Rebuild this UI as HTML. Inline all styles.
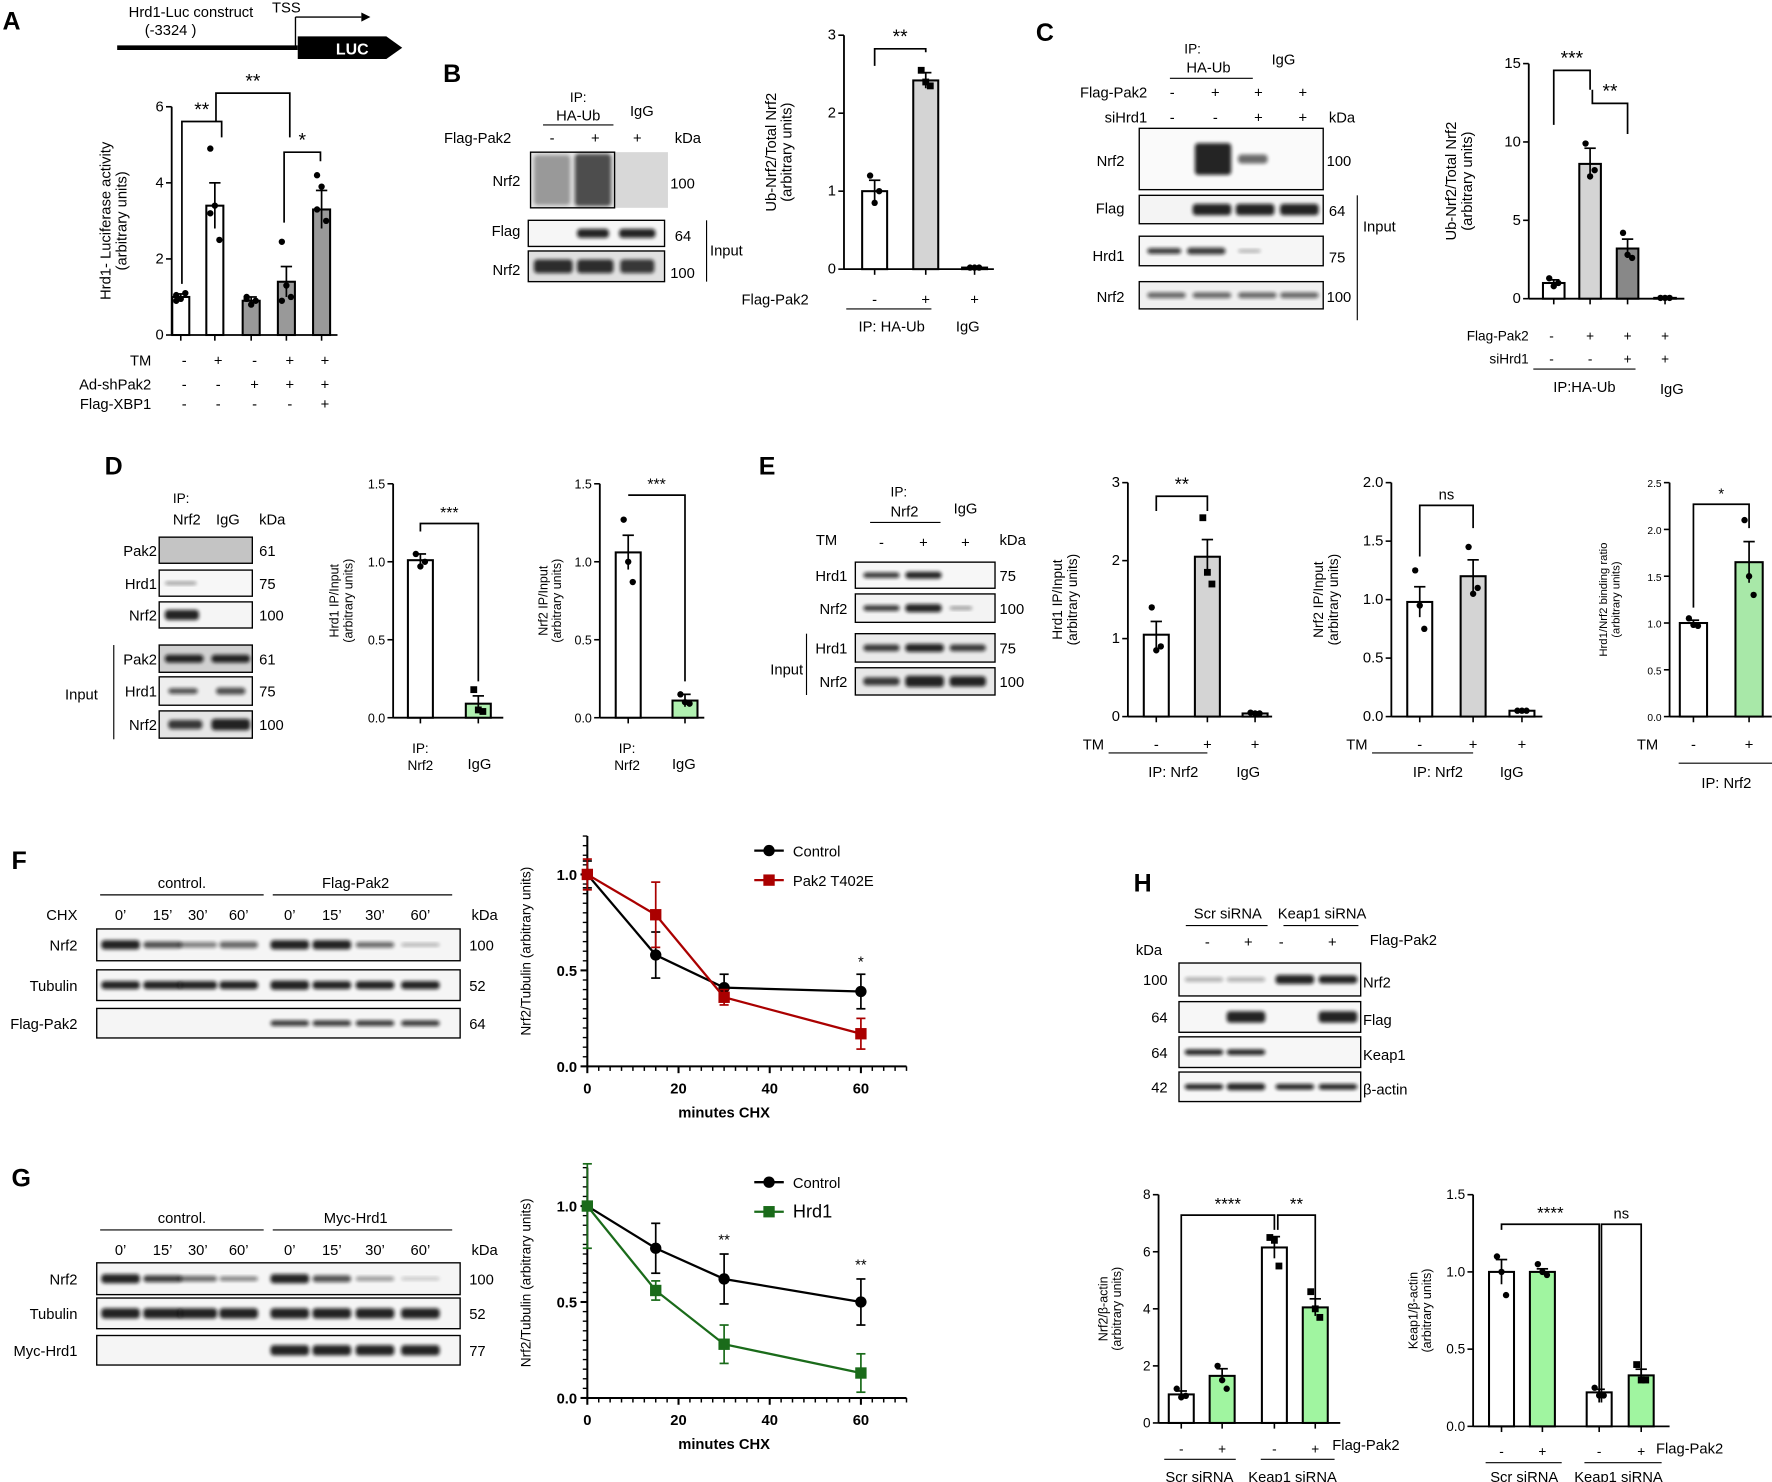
<!DOCTYPE html>
<html><head><meta charset="utf-8"><style>
html,body{margin:0;padding:0;background:#fff}
svg{display:block;font-family:"Liberation Sans",Arial,sans-serif}
</style></head><body>
<svg id="fig" xmlns="http://www.w3.org/2000/svg" width="1772" height="1482" viewBox="0 0 1560 1305">
<defs><filter id="blur" x="-20%" y="-50%" width="140%" height="200%"><feGaussianBlur stdDeviation="1.6"/></filter></defs>
<g id="root"></g>
</svg>
<script>
// ---------- data ----------
const aValues=[1.0,3.4,0.9,1.4,3.3];
const aErrs=[0.08,0.6,0.1,0.4,0.5];
const aPoints=[[1.05,0.95,1.1,0.9],[4.9,3.4,2.5,3.2],[0.95,0.8,0.9,1.0],[2.45,1.3,1.0,0.9],[4.2,3.9,3.0,3.3]];
const bValues=[1.0,2.42,0.02];
const bErrs=[0.14,0.1,0.01];
const bPoints=[[1.2,0.85,1.0],[2.55,2.4,2.35],[0.02,0.02,0.02]];
const cValues=[1.0,8.6,3.2,0.05];
const cErrs=[0.2,1.0,0.6,0.03];
const cPoints=[[1.3,0.8,1.0],[9.9,7.8,8.2],[4.2,2.8,2.6],[0.05,0.05,0.05]];
const d1Values=[1.01,0.09];const d1Errs=[0.04,0.05];const d1Points=[[1.05,0.97,1.0],[0.18,0.05,0.04]];
const d2Values=[1.06,0.11];const d2Errs=[0.11,0.04];const d2Points=[[1.27,1.0,0.87],[0.15,0.1,0.09]];
const e1Values=[1.05,2.05,0.04];const e1Errs=[0.17,0.22,0.02];const e1Points=[[1.4,0.85,0.9],[2.55,1.85,1.7],[0.05,0.04,0.04]];
const e2Values=[0.98,1.2,0.05];const e2Errs=[0.13,0.14,0.01];const e2Points=[[1.25,0.95,0.75],[1.45,1.05,1.1],[0.05,0.05,0.05]];
const e3Values=[1.0,1.65];const e3Errs=[0.03,0.22];const e3Points=[[1.05,0.98,0.97],[2.1,1.5,1.3]];
const h1Values=[1.0,1.65,6.15,4.05];const h1Errs=[0.12,0.25,0.38,0.3];const h1Points=[[1.2,0.9,0.95],[2.0,1.5,1.2],[6.5,6.4,5.5],[4.6,4.0,3.7]];
const h2Values=[1.0,1.0,0.22,0.33];const h2Errs=[0.08,0.02,0.02,0.04];const h2Points=[[1.1,1.0,0.85],[1.05,1.0,0.98],[0.25,0.2,0.2],[0.4,0.3,0.3]];
const timePoints=[0,15,30,60];
const fControl=[1.0,0.58,0.41,0.39];const fControlErr=[0.07,0.12,0.07,0.09];
const fPak2=[1.0,0.79,0.36,0.17];const fPak2Err=[0.08,0.17,0.04,0.08];
const gControl=[1.0,0.78,0.62,0.50];const gControlErr=[0.02,0.13,0.13,0.12];
const gHrd1=[1.0,0.56,0.28,0.13];const gHrd1Err=[0.22,0.05,0.1,0.1];
const xTicks=[0,20,40,60];const yTicksLine=[0,0.5,1.0];

// ---------- helpers ----------
const NS="http://www.w3.org/2000/svg";
const root=document.getElementById('root');
function el(tag,attrs,parent,txt){const e=document.createElementNS(NS,tag);for(const k in attrs)e.setAttribute(k,attrs[k]);if(txt!==undefined)e.textContent=txt;(parent||root).appendChild(e);return e;}
function line(x1,y1,x2,y2,p,w,c){return el('line',{x1,y1,x2,y2,stroke:c||'#000','stroke-width':w||1.5},p);}
function text(x,y,s,p,size,anchor,extra){const t=el('text',Object.assign({x,y,'font-size':size||12,'text-anchor':anchor||'start',fill:'#000'},extra||{}),p,s);return t;}
function group(name){const g=el('g',{});return g;}

function barChart(o){
  const g=group(o.name);
  const ys=v=>o.y0-(v/o.max)*(o.y0-o.yTop);
  line(o.ax,o.yTop,o.ax,o.y0,g,1.6);
  line(o.ax,o.y0,o.xEnd,o.y0,g,1.6);
  o.ticks.forEach((t,i)=>{const y=ys(t);line(o.ax-5,y,o.ax,y,g,1.4);const lb=text(o.ax-7,y+4,o.tickLabels[i],g,o.tfs||12,'end');});
  o.values.forEach((v,i)=>{
    const cx=o.centers[i],w=o.bw;
    const b=el('rect',{x:cx-w/2,y:ys(v),width:w,height:o.y0-ys(v),fill:o.colors[i],stroke:'#000','stroke-width':1.8},g);
    
    
    line(cx,o.y0,cx,o.y0+5,g,1.4);
    const e=o.errs[i];
    line(cx,ys(v),cx,ys(v+e),g,1.5);line(cx-5,ys(v+e),cx+5,ys(v+e),g,1.5);
    line(cx,ys(v),cx,ys(Math.max(0,v-e)),g,1.5);
    o.points[i].forEach((p,j)=>{
      const dx=(j%3-1)*4;
      if(o.square&&o.square[i]) el('rect',{x:cx+dx-3,y:ys(p)-3,width:6,height:6,fill:'#000'},g);
      else el('circle',{cx:cx+dx,cy:ys(p),r:o.pr||2.8,fill:'#000'},g);
    });
  });
  const yl=text(0,0,'',g,o.lfs||12,'middle',{transform:`translate(${o.labX},${(o.y0+o.yTop)/2}) rotate(-90)`});
  
  el('tspan',{x:0,dy:0},yl,o.label1);
  if(o.label2)el('tspan',{x:0,dy:(o.lfs||12)+1},yl,o.label2);
  return {g,ys};
}
function blot(name,x,y,w,h,bands,bg){
  const g=group(name);
  el('rect',{x,y,width:w,height:h,fill:bg||'#f4f4f4',stroke:'#000','stroke-width':1.2},g);
  bands.forEach(b=>{el('rect',{x:b[0],y:y+h/2-b[2]/2,width:b[1],height:b[2],fill:'#111',opacity:b[3]||0.9,rx:3,filter:'url(#blur)'},g);});
  return g;
}
function lineChart(o){
  const g=group(o.name);
  const xs=v=>o.ax+v*o.kx, ys=v=>o.y0-v*(o.y0-o.y1);
  const top=ys(1.2);
  line(o.ax,top,o.ax,o.y0,g,1.8);line(o.ax,o.y0,xs(70),o.y0,g,1.8);
  for(let v=0;v<=70;v+=2.5){const big=v%20===0;line(xs(v),o.y0,xs(v),o.y0+(big?6:4),g,big?1.8:1.3);}
  for(let v=0;v<=1.2001;v+=0.05){const big=Math.abs(v*2-Math.round(v*2))<1e-6;line(o.ax-(big?6:4),ys(v),o.ax,ys(v),g,big?1.8:1.2);}
  xTicks.forEach(t=>{const lb=text(xs(t),o.y0+24,String(t),g,13,'middle',{'font-weight':'bold'});});
  yTicksLine.forEach(t=>{const lb=text(o.ax-9,ys(t)+5,t.toFixed(1),g,13,'end',{'font-weight':'bold'});});
  const xt=text(xs(30),o.y0+45,'minutes CHX',g,13,'middle',{'font-weight':'bold'});
  const yt=text(0,0,'Nrf2/Tubulin (arbitrary units)',g,12,'middle',{transform:`translate(${o.ax-50},${ys(0.6)}) rotate(-90)`});
  o.series.forEach((s,si)=>{
    const sg=el('g',{},g);
    el('polyline',{points:timePoints.map((t,i)=>xs(t)+','+ys(s.vals[i])).join(' '),fill:'none',stroke:s.color,'stroke-width':2},sg);
    timePoints.forEach((t,i)=>{const x=xs(t),v=s.vals[i],e=s.errs[i];
      line(x,ys(v-e),x,ys(v+e),sg,1.5,s.color);line(x-4,ys(v+e),x+4,ys(v+e),sg,1.5,s.color);line(x-4,ys(v-e),x+4,ys(v-e),sg,1.5,s.color);
      if(s.sq){const m=el('rect',{x:x-5,y:ys(v)-5,width:10,height:10,fill:s.color},sg);}
      else {const m=el('circle',{cx:x,cy:ys(v),r:5,fill:s.color},sg);}
    });
    const ly=o.legY+si*26, lx=o.legX;
    const lg=el('g',{},g);
    line(lx,ly,lx+26,ly,lg,2,s.color);
    if(s.sq)el('rect',{x:lx+8,y:ly-5,width:10,height:10,fill:s.color},lg);else el('circle',{cx:lx+13,cy:ly,r:5,fill:s.color},lg);
    text(lx+34,ly+5,s.name,lg,s.lfs||13);
  });
  (o.stars||[]).forEach(st=>text(xs(st[0]),ys(st[1]),st[2],g,13,'middle'));
}
function letter(s,x,y){const t=text(x,y,s,null,22,'start',{'font-weight':'bold'});}
function bracket(g,x1,x2,yb1,yb2,yt,star,fs){el('polyline',{points:`${x1},${yb1} ${x1},${yt} ${x2},${yt} ${x2},${yb2}`,fill:'none',stroke:'#000','stroke-width':1.5},g);text((x1+x2)/2,yt-5,star,g,fs||15,'middle');}

// ---------- Panel A ----------
letter('A',2,26);
{const g=group('construct-diagram');
 text(168,15,'Hrd1-Luc construct',g,13,'middle');text(150,31,'(-3324 )',g,13,'middle');
 line(103,42,262,42,g,4);
 el('polygon',{points:'262,32 340,32 354,42 340,52 262,52',fill:'#000'},g);
 text(310,48,'LUC',g,14,'middle',{fill:'#fff','font-weight':'bold'});
 line(260,42,260,15,g,1.2);line(260,15,318,15,g,1.2);el('polygon',{points:'318,11 326,15 318,19',fill:'#000'},g);
 text(252,11,'TSS',g,13,'middle');}
{const c=barChart({name:'chart-a',ax:151,y0:295,yTop:94,max:6,ticks:[0,2,4,6],tickLabels:['0','2','4','6'],centers:[159,189,221,252,283],bw:15,values:aValues,errs:aErrs,points:aPoints,colors:['#fff','#fff','#999','#999','#999'],xEnd:297,labX:97,label1:'Hrd1- Luciferase activity',label2:'(arbitrary units)',tfs:13,lfs:13});
 bracket(c.g,160,195,250,121,107,'**',17);
 bracket(c.g,190,255,107,121,82,'**',17);
 bracket(c.g,250,282,196,142,134,'*',17);
 const rows=[['TM',['-','+','-','+','+'],318],['Ad-shPak2',['-','-','+','+','+'],339],['Flag-XBP1',['-','-','-','-','+'],356]];
 rows.forEach(r=>{text(133,r[2]+4,r[0],c.g,13,'end');r[1].forEach((s,i)=>text([159,189,221,252,283][i]+3,r[2]+4,s,c.g,13,'middle'));});}

// ---------- Panel B ----------
letter('B',390,72);
{const g=group('blot-b');
 text(509,90,'IP:',g,12,'middle');text(509,106,'HA-Ub',g,13,'middle');line(478,110,540,110,g,1);
 text(565,102,'IgG',g,13,'middle');
 text(450,126,'Flag-Pak2',g,13,'end');text(486,126,'-',g,13,'middle');text(524,126,'+',g,13,'middle');text(561,126,'+',g,13,'middle');text(594,126,'kDa',g,13);
 text(458,164,'Nrf2',g,13,'end');text(458,208,'Flag',g,13,'end');text(458,242,'Nrf2',g,13,'end');
 text(590,166,'100',g,13);text(594,212,'64',g,13);text(590,245,'100',g,13);text(625,225,'Input',g,13);line(622,194,622,248,g,1);
 el('rect',{x:467,y:134,width:121,height:49,fill:'#d8d8d8'},g);
 blot('blot-b-nrf2-ip',467,134,74,49,[[470,32,44,0.35],[506,32,46,0.7]],'#e6e6e6');
 blot('blot-b-flag',465,194,120,23,[[508,28,8],[545,32,8]],'#f6f6f6');
 blot('blot-b-nrf2-input',465,221,120,27,[[470,34,12,0.85],[508,32,12,0.85],[546,30,12,0.8]],'#e0e0e0');}
{const c=barChart({name:'chart-b',ax:743,y0:237,yTop:31,max:3,ticks:[0,1,2,3],tickLabels:['0','1','2','3'],centers:[770,815,858],bw:22,values:bValues,errs:bErrs,points:bPoints,colors:['#fff','#d4d4d4','#fff'],square:[false,true,false],xEnd:875,labX:683,label1:'Ub-Nrf2/Total Nrf2',label2:'(arbitrary units)',tfs:13,lfs:13});
 bracket(c.g,770,815,58,46,43,'**',17);
 text(712,268,'Flag-Pak2',c.g,13,'end');text(770,268,'-',c.g,13,'middle');text(815,268,'+',c.g,13,'middle');text(858,268,'+',c.g,13,'middle');
 line(745,272,820,272,c.g,1);text(785,292,'IP: HA-Ub',c.g,13,'middle');text(852,292,'IgG',c.g,13,'middle');}

// ---------- Panel C ----------
letter('C',912,36);
{const g=group('blot-c');
 text(1050,47,'IP:',g,12,'middle');text(1064,64,'HA-Ub',g,13,'middle');line(1030,69,1103,69,g,1);text(1130,57,'IgG',g,13,'middle');
 text(1010,86,'Flag-Pak2',g,13,'end');text(1010,108,'siHrd1',g,13,'end');
 ['-','+','+','+'].forEach((s,i)=>text([1032,1070,1108,1147][i],86,s,g,13,'middle'));
 ['-','-','+','+'].forEach((s,i)=>text([1032,1070,1108,1147][i],108,s,g,13,'middle'));text(1170,108,'kDa',g,13);
 text(990,146,'Nrf2',g,13,'end');text(990,188,'Flag',g,13,'end');text(990,230,'Hrd1',g,13,'end');text(990,266,'Nrf2',g,13,'end');
 text(1168,146,'100',g,13);text(1170,190,'64',g,13);text(1170,231,'75',g,13);text(1168,266,'100',g,13);text(1200,204,'Input',g,13);line(1195,172,1195,282,g,1);
 blot('blot-c-nrf2-ip',1003,113,162,54,[[1052,32,28,0.9],[1090,26,8,0.6]],'#fafafa');
 blot('blot-c-flag',1003,172,162,25,[[1050,34,10],[1088,34,10],[1127,34,10]],'#f4f4f4');
 blot('blot-c-hrd1',1003,208,162,26,[[1010,30,5,0.8],[1045,34,6,0.8],[1090,20,3,0.3]],'#f6f6f6');
 blot('blot-c-nrf2-input',1003,248,162,24,[[1010,34,5,0.6],[1050,34,5,0.6],[1090,34,5,0.6],[1127,34,5,0.6]],'#f0f0f0');}
{const c=barChart({name:'chart-c',ax:1346,y0:263,yTop:56,max:15,ticks:[0,5,10,15],tickLabels:['0','5','10','15'],centers:[1368,1400,1433,1466],bw:19,values:cValues,errs:cErrs,points:cPoints,colors:['#fff','#d4d4d4','#888','#fff'],xEnd:1483,labX:1282,label1:'Ub-Nrf2/Total Nrf2',label2:'(arbitrary units)',tfs:13,lfs:13});
 bracket(c.g,1368,1400,110,79,62,'***',17);
 bracket(c.g,1402,1433,79,118,91,'**',17);
 text(1346,300,'Flag-Pak2',c.g,12,'end');text(1346,320,'siHrd1',c.g,12,'end');
 ['-','+','+','+'].forEach((s,i)=>text([1366,1400,1433,1466][i],300,s,c.g,12,'middle'));
 ['-','-','+','+'].forEach((s,i)=>text([1366,1400,1433,1466][i],320,s,c.g,12,'middle'));
 line(1350,325,1440,325,c.g,1);text(1395,345,'IP:HA-Ub',c.g,13,'middle');text(1472,347,'IgG',c.g,13,'middle');}

// ---------- Panel D ----------
letter('D',92,418);
{const g=group('blot-d');
 text(152,443,'IP:',g,12);text(152,462,'Nrf2',g,13);text(190,462,'IgG',g,13);text(228,462,'kDa',g,13);
 const rows=[['Pak2',473,23,'61',[],'#c4c4c4'],['Hrd1',502,23,'75',[[145,28,3,0.4]],'#f7f7f7'],['Nrf2',530,23,'100',[[145,30,9]],'#f5f5f5'],['Pak2',568,24,'61',[[145,34,7],[186,34,7]],'#d0d0d0'],['Hrd1',596,25,'75',[[148,26,5,0.7],[190,26,6,0.7]],'#eeeeee'],['Nrf2',626,24,'100',[[148,30,8,0.8],[186,34,10]],'#e5e5e5']];
 rows.forEach(r=>{text(138,r[1]+r[2]/2+5,r[0],g,13,'end');text(228,r[1]+r[2]/2+5,r[3],g,13);blot('blot-d-'+r[0].toLowerCase(),140,r[1],82,r[2],r[4],r[5]);});
 text(86,616,'Input',g,13,'end');line(100,568,100,651,g,1);}
{const c=barChart({name:'chart-d1',ax:346,y0:632,yTop:426,max:1.5,ticks:[0,0.5,1.0,1.5],tickLabels:['0.0','0.5','1.0','1.5'],centers:[370,421],bw:22,values:d1Values,errs:d1Errs,points:d1Points,colors:['#fff','#b0f0b0'],square:[false,true],xEnd:443,labX:298,label1:'Hrd1 IP/Input',label2:'(arbitrary units)',tfs:11,lfs:11});
 bracket(c.g,370,421,468,600,461,'***',14);
 text(370,663,'IP:',c.g,12,'middle');text(370,678,'Nrf2',c.g,12,'middle');text(422,677,'IgG',c.g,13,'middle');}
{const c=barChart({name:'chart-d2',ax:528,y0:632,yTop:426,max:1.5,ticks:[0,0.5,1.0,1.5],tickLabels:['0.0','0.5','1.0','1.5'],centers:[553,603],bw:22,values:d2Values,errs:d2Errs,points:d2Points,colors:['#fff','#b0f0b0'],xEnd:620,labX:482,label1:'Nrf2 IP/Input',label2:'(arbitrary units)',tfs:11,lfs:11});
 bracket(c.g,553,603,436,600,436,'***',14);
 text(552,663,'IP:',c.g,12,'middle');text(552,678,'Nrf2',c.g,12,'middle');text(602,677,'IgG',c.g,13,'middle');}

// ---------- Panel E ----------
letter('E',668,418);
{const g=group('blot-e');
 text(784,437,'IP:',g,12);text(784,455,'Nrf2',g,13);line(766,460,828,460,g,1);text(850,452,'IgG',g,13,'middle');
 text(737,480,'TM',g,13,'end');['-','+','+'].forEach((s,i)=>text([776,813,850][i],482,s,g,13,'middle'));text(880,480,'kDa',g,13);
 const rows=[['Hrd1',495,23,'75',[[760,32,5,0.8],[797,32,6]],'#f7f7f7'],['Nrf2',523,25,'100',[[760,32,5,0.8],[797,32,7],[836,20,3,0.4]],'#f3f3f3'],['Hrd1',558,25,'75',[[760,32,6,0.8],[797,34,7],[836,32,6,0.8]],'#eaeaea'],['Nrf2',588,24,'100',[[760,32,7,0.8],[797,34,10],[836,32,9]],'#e8e8e8']];
 rows.forEach(r=>{text(746,r[1]+r[2]/2+5,r[0],g,13,'end');text(880,r[1]+r[2]/2+5,r[3],g,13);blot('blot-e-'+r[0].toLowerCase(),753,r[1],123,r[2],r[4],r[5]);});
 text(707,594,'Input',g,13,'end');line(710,558,710,612,g,1);}
{const c=barChart({name:'chart-e1',ax:993,y0:631,yTop:425,max:3,ticks:[0,1,2,3],tickLabels:['0','1','2','3'],centers:[1018,1063,1105],bw:22,values:e1Values,errs:e1Errs,points:e1Points,colors:['#fff','#d4d4d4','#fff'],square:[false,true,false],xEnd:1120,labX:935,label1:'Hrd1 IP/Input',label2:'(arbitrary units)',tfs:13,lfs:12});
 bracket(c.g,1018,1063,450,450,437,'**',16);
 text(972,660,'TM',c.g,13,'end');text(1018,660,'-',c.g,13,'middle');text(1063,660,'+',c.g,13,'middle');text(1105,660,'+',c.g,13,'middle');line(976,663,1063,663,c.g,1);
 text(1033,684,'IP: Nrf2',c.g,13,'middle');text(1099,684,'IgG',c.g,13,'middle');}
{const c=barChart({name:'chart-e2',ax:1225,y0:631,yTop:425,max:2,ticks:[0,0.5,1,1.5,2],tickLabels:['0.0','0.5','1.0','1.5','2.0'],centers:[1250,1297,1340],bw:22,values:e2Values,errs:e2Errs,points:e2Points,colors:['#fff','#d4d4d4','#fff'],xEnd:1358,labX:1165,label1:'Nrf2 IP/Input',label2:'(arbitrary units)',tfs:13,lfs:12});
 bracket(c.g,1250,1297,490,465,445,'ns',13);
 text(1204,660,'TM',c.g,13,'end');text(1250,660,'-',c.g,13,'middle');text(1297,660,'+',c.g,13,'middle');text(1340,660,'+',c.g,13,'middle');line(1208,663,1297,663,c.g,1);
 text(1266,684,'IP: Nrf2',c.g,13,'middle');text(1331,684,'IgG',c.g,13,'middle');}
{const c=barChart({name:'chart-e3',ax:1470,y0:631,yTop:425,max:2.5,ticks:[0,0.5,1,1.5,2,2.5],tickLabels:['0.0','0.5','1.0','1.5','2.0','2.5'],centers:[1491,1540],bw:24,values:e3Values,errs:e3Errs,points:e3Points,colors:['#fff','#a8e8a8'],xEnd:1560,labX:1415,label1:'Hrd1/Nrf2 binding ratio',label2:'(arbitrary units)',tfs:9,lfs:10});
 bracket(c.g,1491,1540,535,465,444,'*',13);
 text(1460,660,'TM',c.g,13,'end');text(1491,660,'-',c.g,13,'middle');text(1540,660,'+',c.g,13,'middle');line(1478,672,1563,672,c.g,1);
 text(1520,694,'IP: Nrf2',c.g,13,'middle');}

// ---------- Panels F & G blots ----------
function timeBlot(prefix,top,title,rows){
  const g=group(prefix);
  text(160,top,'control.',g,13,'middle');line(88,top+6,232,top+6,g,1);
  text(313,top,title,g,13,'middle');line(240,top+6,398,top+6,g,1);
  const xsB=[106,143,174,210,255,292,330,370];
  ['0\u2019','15\u2019','30\u2019','60\u2019','0\u2019','15\u2019','30\u2019','60\u2019'].forEach((s,i)=>text(xsB[i],top+28,s,g,13,'middle'));
  text(415,top+28,'kDa',g,13);
  rows.forEach(r=>{text(68,r[1]+r[2]/2+5,r[0],g,13,'end');text(413,r[1]+r[2]/2+5,r[3],g,13);
    blot(prefix+'-'+r[0].toLowerCase(),85,r[1],320,r[2],r[4].map(b=>[xsB[b[0]]-17,34,b[1],b[2]]),'#f5f5f5');});
  return g;
}
letter('F',10,765);
{const g=timeBlot('blot-f',782,'Flag-Pak2',[['Nrf2',818,28,'100',[[0,8],[1,6,0.7],[2,5,0.5],[3,6,0.6],[4,8],[5,8],[6,5,0.6],[7,3,0.3]]],['Tubulin',854,27,'52',[[0,7],[1,7],[2,7],[3,7],[4,8],[5,7],[6,7],[7,7]]],['Flag-Pak2',888,26,'64',[[4,5,0.8],[5,5,0.8],[6,5,0.8],[7,5,0.8]]]]);
 text(68,810,'CHX',g,13,'end');}
letter('G',10,1045);
timeBlot('blot-g',1077,'Myc-Hrd1',[['Nrf2',1112,28,'100',[[0,8],[1,6,0.8],[2,5,0.6],[3,4,0.5],[4,8],[5,6,0.7],[6,4,0.4],[7,3,0.2]]],['Tubulin',1143,27,'52',[[0,9],[1,9],[2,9],[3,9],[4,9],[5,9],[6,9],[7,9]]],['Myc-Hrd1',1176,26,'77',[[4,9],[5,9],[6,9],[7,9]]]]);

lineChart({name:'chart-f',ax:517,y0:939,y1:770,kx:4.015,legX:664,legY:749,
 series:[{key:'control',name:'Control',vals:fControl,errs:fControlErr,color:'#000'},{key:'pak2-t402e',name:'Pak2 T402E',vals:fPak2,errs:fPak2Err,color:'#a00',sq:true}],
 stars:[[60,0.52,'*']]});
lineChart({name:'chart-g',ax:517,y0:1231,y1:1062,kx:4.015,legX:664,legY:1041,
 series:[{key:'control',name:'Control',vals:gControl,errs:gControlErr,color:'#000'},{key:'hrd1',name:'Hrd1',vals:gHrd1,errs:gHrd1Err,color:'#1a6b1a',sq:true,lfs:16}],
 stars:[[30,0.8,'**'],[60,0.67,'**']]});

// ---------- Panel H ----------
letter('H',998,785);
{const g=group('blot-h');
 text(1081,809,'Scr siRNA',g,13,'middle');line(1044,815,1116,815,g,1);
 text(1164,809,'Keap1 siRNA',g,13,'middle');line(1130,815,1196,815,g,1);
 ['-','+','-','+'].forEach((s,i)=>text([1063,1099,1128,1173][i],834,s,g,13,'middle'));text(1206,832,'Flag-Pak2',g,13);
 text(1000,841,'kDa',g,13);
 const xs=[1060,1097,1140,1178];
 const rows=[['Nrf2',848,29,'100',[[0,4,0.3],[1,4,0.3],[2,8],[3,7]]],['Flag',882,27,'64',[[1,10],[3,10]]],['Keap1',913,27,'64',[[0,5],[1,5]]],['\u03b2-actin',944,26,'42',[[0,5],[1,6],[2,5],[3,5]]]];
 rows.forEach(r=>{text(1028,r[1]+r[2]/2+5,r[3],g,13,'end');text(1200,r[1]+r[2]/2+7,r[0],g,13);
  blot('blot-h-'+r[0].toLowerCase().replace('\u03b2','beta'),1038,r[1],160,r[2],r[4].map(b=>[xs[b[0]]-17,34,b[1],b[2]]),'#f7f7f7');});}
{const c=barChart({name:'chart-h1',ax:1020,y0:1253,yTop:1052,max:8,ticks:[0,2,4,6,8],tickLabels:['0','2','4','6','8'],centers:[1040,1076,1122,1158],bw:22,values:h1Values,errs:h1Errs,points:h1Points,colors:['#fff','#a0f5a0','#fff','#a0f5a0'],square:[false,false,true,true],xEnd:1180,labX:975,label1:'Nrf2/\u03b2-actin',label2:'(arbitrary units)',tfs:12,lfs:11});
 bracket(c.g,1040,1122,1233,1083,1070,'****',15);
 bracket(c.g,1125,1158,1083,1150,1070,'**',15);
 ['-','+','-','+'].forEach((s,i)=>text([1040,1076,1122,1158][i],1280,s,c.g,12,'middle'));text(1173,1277,'Flag-Pak2',c.g,13);
 line(1025,1285,1088,1285,c.g,1);line(1110,1285,1175,1285,c.g,1);
 text(1056,1305,'Scr siRNA',c.g,13,'middle');text(1138,1305,'Keap1 siRNA',c.g,13,'middle');}
{const c=barChart({name:'chart-h2',ax:1297,y0:1256,yTop:1052,max:1.5,ticks:[0,0.5,1,1.5],tickLabels:['0.0','0.5','1.0','1.5'],centers:[1322,1358,1408,1445],bw:22,values:h2Values,errs:h2Errs,points:h2Points,colors:['#fff','#a0f5a0','#fff','#a0f5a0'],square:[false,false,false,true],xEnd:1470,labX:1248,label1:'Keap1/\u03b2-actin',label2:'(arbitrary units)',tfs:12,lfs:11});
 bracket(c.g,1322,1408,1083,1235,1078,'****',15);
 bracket(c.g,1410,1445,1235,1213,1078,'ns',13);
 ['-','+','-','+'].forEach((s,i)=>text([1322,1358,1408,1445][i],1282,s,c.g,12,'middle'));text(1458,1280,'Flag-Pak2',c.g,13);
 line(1308,1288,1375,1288,c.g,1);line(1395,1288,1463,1288,c.g,1);
 text(1342,1305,'Scr siRNA',c.g,13,'middle');text(1425,1305,'Keap1 siRNA',c.g,13,'middle');}
</script>
</body></html>
